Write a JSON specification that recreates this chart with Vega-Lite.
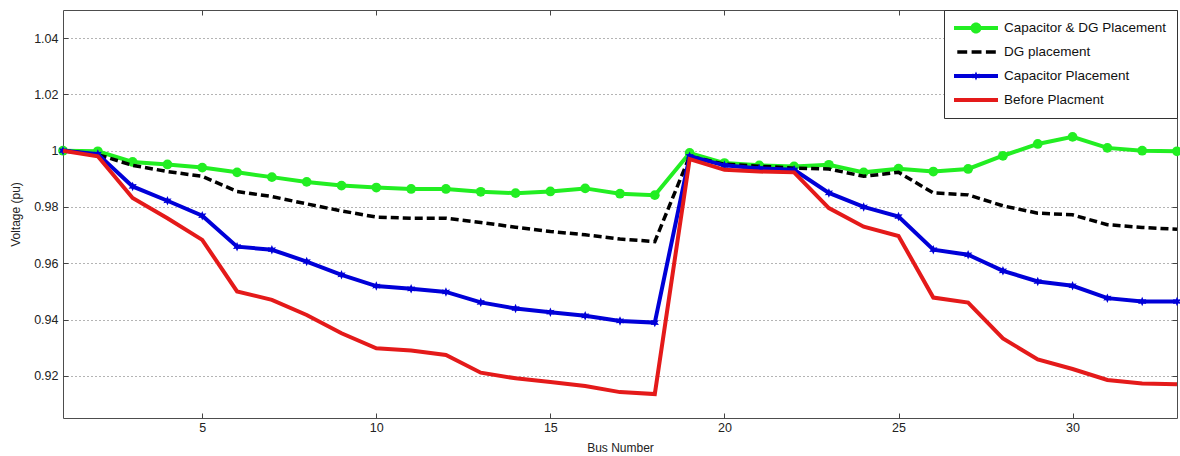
{
  "$schema": "https://vega.github.io/schema/vega-lite/v6.json",
  "width": 1114,
  "height": 408,
  "autosize": {"type": "none"},
  "padding": {"left": 63, "top": 10, "right": 3, "bottom": 38},
  "background": "white",
  "config": {
    "font": "Liberation Sans",
    "view": {"stroke": "#4d4d4d", "strokeWidth": 1},
    "axis": {
      "domain": false,
      "labelFont": "Liberation Sans",
      "labelFontSize": 12.5,
      "labelColor": "#222222",
      "titleFont": "Liberation Sans",
      "titleFontSize": 12,
      "titleFontWeight": "normal",
      "titleColor": "#222222",
      "tickColor": "#444444",
      "tickSize": -5,
      "gridColor": "#444444",
      "gridDash": [1, 3],
      "gridWidth": 1,
      "gridOpacity": 0.8
    }
  },
  "data": {
    "values": [
      {"bus": 1, "s": "Capacitor & DG Placement", "v": 1.0},
      {"bus": 2, "s": "Capacitor & DG Placement", "v": 0.9998},
      {"bus": 3, "s": "Capacitor & DG Placement", "v": 0.996},
      {"bus": 4, "s": "Capacitor & DG Placement", "v": 0.9951},
      {"bus": 5, "s": "Capacitor & DG Placement", "v": 0.994},
      {"bus": 6, "s": "Capacitor & DG Placement", "v": 0.9923},
      {"bus": 7, "s": "Capacitor & DG Placement", "v": 0.9906},
      {"bus": 8, "s": "Capacitor & DG Placement", "v": 0.9889},
      {"bus": 9, "s": "Capacitor & DG Placement", "v": 0.9876},
      {"bus": 10, "s": "Capacitor & DG Placement", "v": 0.9869},
      {"bus": 11, "s": "Capacitor & DG Placement", "v": 0.9864},
      {"bus": 12, "s": "Capacitor & DG Placement", "v": 0.9864},
      {"bus": 13, "s": "Capacitor & DG Placement", "v": 0.9854},
      {"bus": 14, "s": "Capacitor & DG Placement", "v": 0.9849},
      {"bus": 15, "s": "Capacitor & DG Placement", "v": 0.9855},
      {"bus": 16, "s": "Capacitor & DG Placement", "v": 0.9866},
      {"bus": 17, "s": "Capacitor & DG Placement", "v": 0.9847},
      {"bus": 18, "s": "Capacitor & DG Placement", "v": 0.9842},
      {"bus": 19, "s": "Capacitor & DG Placement", "v": 0.9992},
      {"bus": 20, "s": "Capacitor & DG Placement", "v": 0.9956},
      {"bus": 21, "s": "Capacitor & DG Placement", "v": 0.9948},
      {"bus": 22, "s": "Capacitor & DG Placement", "v": 0.9944},
      {"bus": 23, "s": "Capacitor & DG Placement", "v": 0.995},
      {"bus": 24, "s": "Capacitor & DG Placement", "v": 0.9923},
      {"bus": 25, "s": "Capacitor & DG Placement", "v": 0.9936},
      {"bus": 26, "s": "Capacitor & DG Placement", "v": 0.9926},
      {"bus": 27, "s": "Capacitor & DG Placement", "v": 0.9935},
      {"bus": 28, "s": "Capacitor & DG Placement", "v": 0.9982},
      {"bus": 29, "s": "Capacitor & DG Placement", "v": 1.0024},
      {"bus": 30, "s": "Capacitor & DG Placement", "v": 1.0049},
      {"bus": 31, "s": "Capacitor & DG Placement", "v": 1.001},
      {"bus": 32, "s": "Capacitor & DG Placement", "v": 1.0},
      {"bus": 33, "s": "Capacitor & DG Placement", "v": 0.9998},
      {"bus": 1, "s": "DG placement", "v": 1.0},
      {"bus": 2, "s": "DG placement", "v": 0.9986},
      {"bus": 3, "s": "DG placement", "v": 0.9948},
      {"bus": 4, "s": "DG placement", "v": 0.9926},
      {"bus": 5, "s": "DG placement", "v": 0.9909},
      {"bus": 6, "s": "DG placement", "v": 0.9855},
      {"bus": 7, "s": "DG placement", "v": 0.9837},
      {"bus": 8, "s": "DG placement", "v": 0.9811},
      {"bus": 9, "s": "DG placement", "v": 0.9786},
      {"bus": 10, "s": "DG placement", "v": 0.9764},
      {"bus": 11, "s": "DG placement", "v": 0.976},
      {"bus": 12, "s": "DG placement", "v": 0.976},
      {"bus": 13, "s": "DG placement", "v": 0.9745},
      {"bus": 14, "s": "DG placement", "v": 0.9728},
      {"bus": 15, "s": "DG placement", "v": 0.9713},
      {"bus": 16, "s": "DG placement", "v": 0.9701},
      {"bus": 17, "s": "DG placement", "v": 0.9686},
      {"bus": 18, "s": "DG placement", "v": 0.9677},
      {"bus": 19, "s": "DG placement", "v": 0.998},
      {"bus": 20, "s": "DG placement", "v": 0.9952},
      {"bus": 21, "s": "DG placement", "v": 0.9945},
      {"bus": 22, "s": "DG placement", "v": 0.9938},
      {"bus": 23, "s": "DG placement", "v": 0.9935},
      {"bus": 24, "s": "DG placement", "v": 0.9909},
      {"bus": 25, "s": "DG placement", "v": 0.9923},
      {"bus": 26, "s": "DG placement", "v": 0.985},
      {"bus": 27, "s": "DG placement", "v": 0.9843},
      {"bus": 28, "s": "DG placement", "v": 0.9804},
      {"bus": 29, "s": "DG placement", "v": 0.9778},
      {"bus": 30, "s": "DG placement", "v": 0.9772},
      {"bus": 31, "s": "DG placement", "v": 0.9737},
      {"bus": 32, "s": "DG placement", "v": 0.9727},
      {"bus": 33, "s": "DG placement", "v": 0.9721},
      {"bus": 1, "s": "Capacitor Placement", "v": 1.0},
      {"bus": 2, "s": "Capacitor Placement", "v": 0.9988},
      {"bus": 3, "s": "Capacitor Placement", "v": 0.9873},
      {"bus": 4, "s": "Capacitor Placement", "v": 0.9822},
      {"bus": 5, "s": "Capacitor Placement", "v": 0.9769},
      {"bus": 6, "s": "Capacitor Placement", "v": 0.9659},
      {"bus": 7, "s": "Capacitor Placement", "v": 0.9648},
      {"bus": 8, "s": "Capacitor Placement", "v": 0.9606},
      {"bus": 9, "s": "Capacitor Placement", "v": 0.9559},
      {"bus": 10, "s": "Capacitor Placement", "v": 0.9519},
      {"bus": 11, "s": "Capacitor Placement", "v": 0.9509},
      {"bus": 12, "s": "Capacitor Placement", "v": 0.9498},
      {"bus": 13, "s": "Capacitor Placement", "v": 0.9461},
      {"bus": 14, "s": "Capacitor Placement", "v": 0.9439},
      {"bus": 15, "s": "Capacitor Placement", "v": 0.9426},
      {"bus": 16, "s": "Capacitor Placement", "v": 0.9413},
      {"bus": 17, "s": "Capacitor Placement", "v": 0.9395},
      {"bus": 18, "s": "Capacitor Placement", "v": 0.9389},
      {"bus": 19, "s": "Capacitor Placement", "v": 0.998},
      {"bus": 20, "s": "Capacitor Placement", "v": 0.9948},
      {"bus": 21, "s": "Capacitor Placement", "v": 0.9937},
      {"bus": 22, "s": "Capacitor Placement", "v": 0.9932},
      {"bus": 23, "s": "Capacitor Placement", "v": 0.985},
      {"bus": 24, "s": "Capacitor Placement", "v": 0.98},
      {"bus": 25, "s": "Capacitor Placement", "v": 0.9766},
      {"bus": 26, "s": "Capacitor Placement", "v": 0.9648},
      {"bus": 27, "s": "Capacitor Placement", "v": 0.963},
      {"bus": 28, "s": "Capacitor Placement", "v": 0.9573},
      {"bus": 29, "s": "Capacitor Placement", "v": 0.9535},
      {"bus": 30, "s": "Capacitor Placement", "v": 0.952},
      {"bus": 31, "s": "Capacitor Placement", "v": 0.9476},
      {"bus": 32, "s": "Capacitor Placement", "v": 0.9464},
      {"bus": 33, "s": "Capacitor Placement", "v": 0.9464},
      {"bus": 1, "s": "Before Placment", "v": 1.0},
      {"bus": 2, "s": "Before Placment", "v": 0.998},
      {"bus": 3, "s": "Before Placment", "v": 0.9832},
      {"bus": 4, "s": "Before Placment", "v": 0.976},
      {"bus": 5, "s": "Before Placment", "v": 0.9683},
      {"bus": 6, "s": "Before Placment", "v": 0.95},
      {"bus": 7, "s": "Before Placment", "v": 0.947},
      {"bus": 8, "s": "Before Placment", "v": 0.9416},
      {"bus": 9, "s": "Before Placment", "v": 0.9351},
      {"bus": 10, "s": "Before Placment", "v": 0.9298},
      {"bus": 11, "s": "Before Placment", "v": 0.929},
      {"bus": 12, "s": "Before Placment", "v": 0.9274},
      {"bus": 13, "s": "Before Placment", "v": 0.9211},
      {"bus": 14, "s": "Before Placment", "v": 0.9191},
      {"bus": 15, "s": "Before Placment", "v": 0.9178},
      {"bus": 16, "s": "Before Placment", "v": 0.9164},
      {"bus": 17, "s": "Before Placment", "v": 0.9142},
      {"bus": 18, "s": "Before Placment", "v": 0.9135},
      {"bus": 19, "s": "Before Placment", "v": 0.997},
      {"bus": 20, "s": "Before Placment", "v": 0.9932},
      {"bus": 21, "s": "Before Placment", "v": 0.9926},
      {"bus": 22, "s": "Before Placment", "v": 0.9923},
      {"bus": 23, "s": "Before Placment", "v": 0.9796},
      {"bus": 24, "s": "Before Placment", "v": 0.973},
      {"bus": 25, "s": "Before Placment", "v": 0.9697},
      {"bus": 26, "s": "Before Placment", "v": 0.9478},
      {"bus": 27, "s": "Before Placment", "v": 0.946},
      {"bus": 28, "s": "Before Placment", "v": 0.9333},
      {"bus": 29, "s": "Before Placment", "v": 0.9258},
      {"bus": 30, "s": "Before Placment", "v": 0.9224},
      {"bus": 31, "s": "Before Placment", "v": 0.9185},
      {"bus": 32, "s": "Before Placment", "v": 0.9173},
      {"bus": 33, "s": "Before Placment", "v": 0.917}
    ]
  },
  "encoding": {
    "x": {"field": "bus", "type": "quantitative", "scale": {"domain": [1, 33], "nice": false, "zero": false}, "axis": null},
    "y": {"field": "v", "type": "quantitative", "scale": {"domain": [0.905, 1.05], "nice": false, "zero": false}, "axis": null},
    "color": {
      "field": "s",
      "type": "nominal",
      "sort": null,
      "scale": {
        "domain": ["Capacitor & DG Placement", "DG placement", "Capacitor Placement", "Before Placment"],
        "range": ["#22ee22", "#000000", "#0000d8", "#e41a1a"]
      },
      "legend": {
        "title": null,
        "orient": "top-right",
        "offset": 0,
        "fillColor": "white",
        "strokeColor": "#333333",
        "padding": 10,
        "symbolSize": 1936,
        "symbolStrokeWidth": 0,
        "symbolOpacity": 1,
        "clipHeight": 16,
        "rowPadding": 8,
        "labelFont": "Liberation Sans",
        "labelFontSize": 13.5,
        "labelColor": "#111111",
        "labelOffset": 6,
        "labelLimit": 300
      }
    }
  },
  "resolve": {"axis": {"x": "independent", "y": "independent"}},
  "layer": [
    {
      "transform": [{"filter": "datum.s === 'Capacitor & DG Placement'"}],
      "mark": {"type": "line", "strokeWidth": 4},
      "encoding": {
        "x": {
          "field": "bus", "type": "quantitative",
          "scale": {"domain": [1, 33], "nice": false, "zero": false},
          "axis": {"orient": "bottom", "values": [5, 10, 15, 20, 25, 30], "grid": false, "labelPadding": 8, "title": "Bus Number", "titlePadding": 9}
        },
        "y": {
          "field": "v", "type": "quantitative",
          "scale": {"domain": [0.905, 1.05], "nice": false, "zero": false},
          "axis": {"orient": "left", "values": [0.92, 0.94, 0.96, 0.98, 1.0, 1.02, 1.04], "format": ".2~f", "grid": true, "labelPadding": 10, "title": "Voltage (pu)", "titlePadding": 11}
        }
      }
    },
    {
      "transform": [{"filter": "datum.s === 'Capacitor & DG Placement'"}],
      "mark": {"type": "point", "filled": true, "shape": "circle", "size": 95, "opacity": 1}
    },
    {
      "transform": [{"filter": "datum.s === 'DG placement'"}],
      "mark": {"type": "line", "strokeWidth": 3.5, "strokeDash": [8, 4]}
    },
    {
      "transform": [{"filter": "datum.s === 'Capacitor Placement'"}],
      "mark": {"type": "line", "strokeWidth": 4}
    },
    {
      "transform": [{"filter": "datum.s === 'Capacitor Placement'"}],
      "mark": {"type": "point", "filled": true, "size": 90, "opacity": 1, "shape": "M0,-1L0.25,-0.433L0.866,-0.5L0.5,0L0.866,0.5L0.25,0.433L0,1L-0.25,0.433L-0.866,0.5L-0.5,0L-0.866,-0.5L-0.25,-0.433Z"}
    },
    {
      "transform": [{"filter": "datum.s === 'Before Placment'"}],
      "mark": {"type": "line", "strokeWidth": 4}
    },
    {
      "mark": {"type": "point", "filled": true, "opacity": 0},
      "encoding": {
        "x": {
          "field": "bus", "type": "quantitative",
          "scale": {"domain": [1, 33], "nice": false, "zero": false},
          "axis": {"orient": "top", "values": [5, 10, 15, 20, 25, 30], "grid": false, "labels": false, "title": null}
        },
        "y": {
          "field": "v", "type": "quantitative",
          "scale": {"domain": [0.905, 1.05], "nice": false, "zero": false},
          "axis": {"orient": "right", "values": [0.92, 0.94, 0.96, 0.98, 1.0, 1.02, 1.04], "grid": false, "labels": false, "title": null}
        },
        "shape": {
          "field": "s",
          "type": "nominal",
          "sort": null,
          "scale": {
            "domain": ["Capacitor & DG Placement", "DG placement", "Capacitor Placement", "Before Placment"],
            "range": [
              "M-1,-0.09L1,-0.09L1,0.09L-1,0.09Z M0.25,0A0.25,0.25 0 1,1 -0.25,0A0.25,0.25 0 1,1 0.25,0Z",
              "M-0.85,-0.08H-0.4V0.08H-0.85Z M-0.2,-0.08H0.25V0.08H-0.2Z M0.45,-0.08H0.9V0.08H0.45Z",
              "M-1,-0.09L1,-0.09L1,0.09L-1,0.09Z M0,-0.2L0.05,-0.087L0.173,-0.1L0.1,0L0.173,0.1L0.05,0.087L0,0.2L-0.05,0.087L-0.173,0.1L-0.1,0L-0.173,-0.1L-0.05,-0.087Z",
              "M-1,-0.09L1,-0.09L1,0.09L-1,0.09Z"
            ]
          },
          "legend": {
            "title": null,
            "orient": "top-right",
            "offset": 0,
            "fillColor": "white",
            "strokeColor": "#333333",
            "padding": 10,
            "symbolSize": 1936,
            "symbolStrokeWidth": 0,
            "symbolOpacity": 1,
            "clipHeight": 16,
            "rowPadding": 8,
            "labelFont": "Liberation Sans",
            "labelFontSize": 13.5,
            "labelColor": "#111111",
            "labelOffset": 6,
            "labelLimit": 300
          }
        }
      }
    }
  ]
}
